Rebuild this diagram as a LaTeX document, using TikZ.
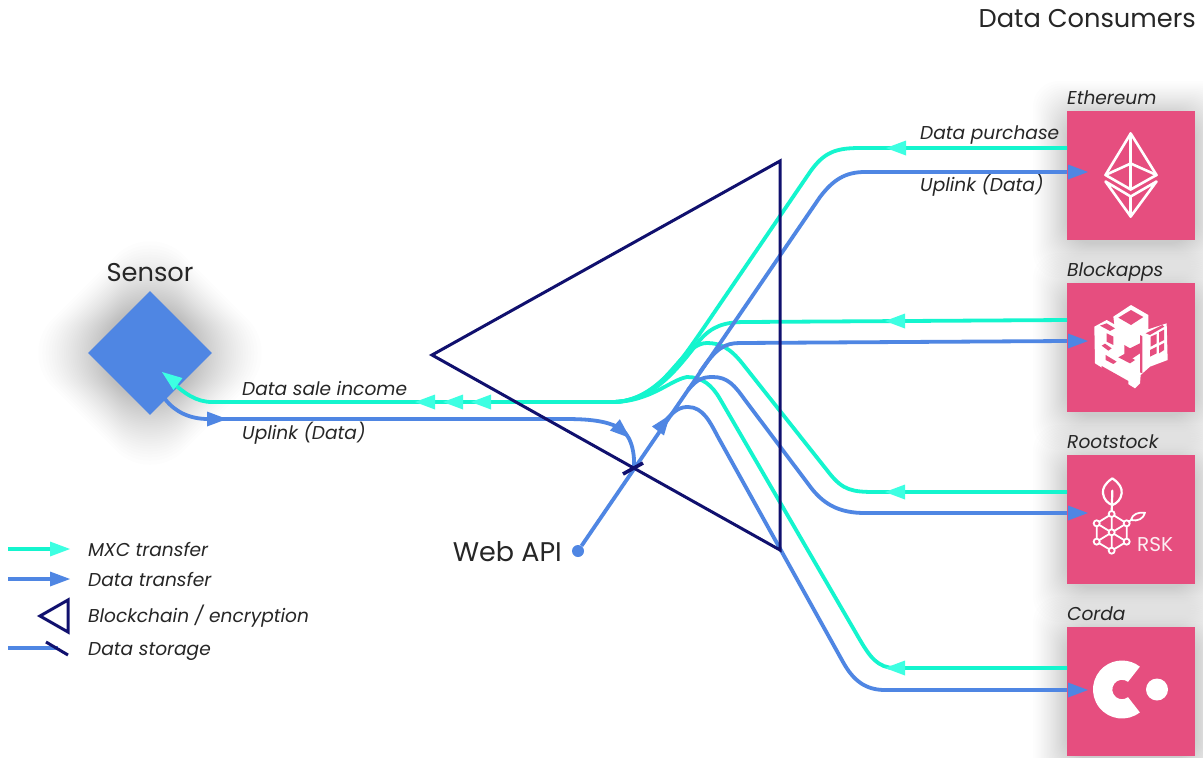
\documentclass[tikz,border=0pt]{standalone}
\usepackage{fontspec}
\setmainfont{Poppins}
\usetikzlibrary{shapes.geometric}
\definecolor{mxc}{HTML}{14F5CE}
\definecolor{mxchead}{HTML}{3DFFE2}
\definecolor{datab}{HTML}{4F86E3}
\definecolor{navyb}{HTML}{10106E}
\definecolor{consumer}{HTML}{E64E7F}
\definecolor{ink}{HTML}{262626}
\tikzset{
  mxcline/.style={draw=mxc,line width=3.8pt},
  dataline/.style={draw=datab,line width=3.8pt},
  chain/.style={draw=navyb,line width=3pt,line join=miter},
  storetick/.style={draw=navyb,line width=3.6pt},
  mxctip/.style={fill=mxchead},
  datatip/.style={fill=datab},
  consumerbox/.style={rectangle,fill=consumer,minimum width=128pt,minimum height=129pt,inner sep=0pt},
  sensorbox/.style={diamond,fill=datab,aspect=1,minimum width=124pt,minimum height=124pt,inner sep=0pt},
  bigtext/.style={font=\fontsize{25.7}{26}\selectfont,text=ink,inner sep=0pt},
  smalltext/.style={font=\fontsize{18.6}{19}\selectfont\itshape,text=ink,inner sep=0pt,anchor=west},
  iconline/.style={draw=white,line width=2.6pt,line join=round,line cap=round},
  rsknode/.style={circle,draw=white,fill=consumer,line width=1.8pt,minimum size=6pt,inner sep=0pt},
}
\newcommand{\tiphead}[4]{\fill[#4,shift={(#1,#2)},rotate=#3] (0,0) -- (-20,7.5) -- (-20,-7.5) -- cycle;}
\newcommand{\boxglow}[2]{\foreach \i in {1,...,26}{\pgfmathsetmacro{\g}{38*(\i/26)^0.7}\fill[black,opacity=0.008,rounded corners=26pt] (#1-64-38+\g,#2-64-34+\g) rectangle (#1+64+38-\g,#2+65+42-\g);}}
\begin{document}
\begin{tikzpicture}[x=1pt,y=-1pt]
\useasboundingbox (0,0) rectangle (1203,758);
\fill[white] (0,0) rectangle (1203,758);
% glows
\foreach \i in {1,...,32}{\pgfmathsetmacro{\g}{72*(\i/32)^0.7}\fill[black,opacity=0.008,rounded corners=48pt] (150,353-138+\g) -- (150+138-\g,353) -- (150,353+138-\g) -- (150-138+\g,353) -- cycle;}
\boxglow{1131}{175}
\boxglow{1131}{347}
\boxglow{1131}{519}
\boxglow{1131}{691}
% nodes
\node[sensorbox] (sensor) at (150,353) {};
\node[consumerbox] (eth) at (1131,175.5) {};
\node[consumerbox] (blk) at (1131,347.5) {};
\node[consumerbox] (rsk) at (1131,519.5) {};
\node[consumerbox] (crd) at (1131,691.5) {};
\node[circle,fill=datab,minimum size=12pt,inner sep=0pt] (api) at (578,551) {};
\node[bigtext,anchor=east] (title) at (1196,19) {Data Consumers};
\node[bigtext] (sensorlabel) at (150,273) {Sensor};
\node[bigtext,font=\fontsize{27}{27}\selectfont,anchor=east] (apilabel) at (562,552) {Web API};
\node[smalltext] (l1) at (1067,98) {Ethereum};
\node[smalltext] (l2) at (1067,272) {Blockapps};
\node[smalltext] (l3) at (1067,442) {Rootstock};
\node[smalltext] (l4) at (1067,614) {Corda};
\node[smalltext] (l5) at (920,135) {Data purchase};
\node[smalltext] (l6) at (920,185) {Uplink (Data)};
\node[smalltext] (l7) at (242,389) {Data sale income};
\node[smalltext] (l8) at (242,433) {Uplink (Data)};
\node[smalltext] (l9) at (88,549) {MXC transfer};
\node[smalltext] (l10) at (88,579) {Data transfer};
\node[smalltext] (l11) at (88,616) {Blockchain / encryption};
\node[smalltext] (l12) at (88,652) {Data storage};
% ports
\coordinate (ethM) at (1067,148);
\coordinate (ethD) at (1067,172);
\coordinate (blkM) at (1067,320);
\coordinate (blkD) at (1067,341);
\coordinate (rskM) at (1067,492);
\coordinate (rskD) at (1067,513);
\coordinate (crdM) at (1067,668);
\coordinate (crdD) at (1067,690);
\coordinate (hub) at (612,402);
\coordinate (store) at (634,468);
\coordinate (senM) at (172,382);
\coordinate (senD) at (165,399);
\coordinate (triA) at (432,355);
\coordinate (triB) at (780,161);
\coordinate (triC) at (780,550);
% mxc lines
\draw[mxcline] (hub) -- (212,402) .. controls (196,402) and (184,393) .. (senM);
\draw[mxcline] (ethM) -- (860,148) .. controls (836,148) and (824,152) .. (810,172) -- (705,326) .. controls (680,362) and (655,402) .. (hub);
\draw[mxcline] (blkM) -- (745,322) .. controls (725,322) and (712,326) .. (700,340) .. controls (680,365) and (655,402) .. (hub);
\draw[mxcline] (rskM) -- (875,492) .. controls (852,492) and (843,490) .. (830,474) -- (742,363) .. controls (730,348) and (720,343) .. (707,343) .. controls (690,343) and (676,368) .. (660,382) .. controls (645,395) and (630,402) .. (hub);
\draw[mxcline] (crdM) -- (895,668) .. controls (878,668) and (870,657) .. (860,640) -- (720,399) .. controls (712,385) and (702,377) .. (687,377) .. controls (670,380) and (650,402) .. (hub);
% data lines
\draw[dataline] (senD) .. controls (175,412) and (190,419) .. (208,419) -- (565,419) .. controls (590,419) and (605,421) .. (618,427) .. controls (630,433) and (635,450) .. (store);
\draw[dataline] (api) -- (820,197) .. controls (833,180) and (845,172) .. (865,172) -- (ethD);
\draw[dataline] (blkD) -- (740,343) .. controls (725,343) and (716,348) .. (700,372);
\draw[dataline] (rskD) -- (865,513) .. controls (840,513) and (825,505) .. (812,489) -- (745,400) .. controls (735,386) and (728,377) .. (713,377) .. controls (703,377) and (697,379) .. (688,390);
\draw[dataline] (crdD) -- (885,690) .. controls (865,690) and (853,680) .. (843,662) -- (718,437) .. controls (710,422) and (703,407) .. (688,407) .. controls (680,407) and (675,410) .. (666,420);
% blockchain
\draw[chain] (triA) -- (triB) -- (triC) -- cycle;
\coordinate (tickA) at (623,474);
\coordinate (tickB) at (643,463);
\draw[storetick] (tickA) -- (tickB);
% arrow tips
\tiphead{415}{402}{180}{mxctip}
\tiphead{443}{402}{180}{mxctip}
\tiphead{471}{402}{180}{mxctip}
\tiphead{162}{372}{143}{mxctip}
\tiphead{886}{148}{180}{mxctip}
\tiphead{885}{321}{180}{mxctip}
\tiphead{885}{492}{180}{mxctip}
\tiphead{885}{668}{180}{mxctip}
\tiphead{227}{419}{0}{datatip}
\tiphead{630}{438}{-41}{datatip}
\tiphead{670}{415}{53}{datatip}
\tiphead{1088}{172}{0}{datatip}
\tiphead{1088}{341}{0}{datatip}
\tiphead{1088}{513}{0}{datatip}
\tiphead{1088}{690}{0}{datatip}
% ethereum icon
\draw[iconline] (1130.7,133.5) -- (1105.5,175) -- (1130.7,189.5) -- (1156.5,175) -- cycle;
\draw[iconline] (1105.5,175) -- (1130.7,163.5) -- (1156.5,175);
\draw[iconline] (1130.7,133.5) -- (1130.7,189.5);
\draw[iconline] (1105.5,181.5) -- (1130.7,196.5) -- (1156.5,181.5) -- (1130.7,216.5) -- cycle;
\draw[iconline] (1130.7,196.5) -- (1130.7,216.5);
% blockapps icon
\begin{scope}[shift={(1085,295)},x=0.3333pt,y=-0.3333pt]
\fill[white] (138,30) -- (190,60) -- (190,103) -- (245,85) -- (248,195) -- (195,215) -- (167,240) -- (165,265) -- (150,280) -- (30,205) -- (28,95) -- (65,75) -- (88,88) -- (85,65) -- cycle;
\fill[consumer] (138,45) -- (175,66) -- (138,90) -- (100,68) -- cycle;
\fill[consumer] (45,92) -- (65,85) -- (90,100) -- (75,108) -- cycle;
\fill[consumer] (65,115) -- (85,125) -- (85,150) -- (65,140) -- cycle;
\fill[consumer] (50,152) -- (60,146) -- (80,160) -- (70,167) -- cycle;
\fill[consumer] (118,150) -- (135,160) -- (165,145) -- (165,175) -- (135,195) -- (118,180) -- cycle;
\fill[consumer] (62,180) -- (95,200) -- (85,207) -- (62,195) -- cycle;
\fill[consumer] (100,187) -- (120,176) -- (150,195) -- (135,205) -- cycle;
\fill[consumer] (50,213) -- (130,258) -- (130,270) -- (50,225) -- cycle;
\fill[consumer] (165,120) -- (172,124) -- (172,235) -- (165,232) -- cycle;
\fill[consumer] (182,115) -- (232,90) -- (238,95) -- (195,120) -- cycle;
\fill[consumer] (197,125) -- (215,117) -- (215,145) -- (197,155) -- cycle;
\fill[consumer] (222,112) -- (237,104) -- (237,135) -- (222,143) -- cycle;
\fill[consumer] (195,165) -- (215,155) -- (215,175) -- (195,185) -- cycle;
\fill[consumer] (222,152) -- (237,144) -- (237,165) -- (222,175) -- cycle;
\end{scope}
% rsk icon
\begin{scope}[shift={(1085,470)},x=0.3333pt,y=-0.3333pt]
\draw[iconline,line width=2.2pt] (82,25) .. controls (60,40) and (52,55) .. (54,70) .. controls (56,88) and (68,100) .. (82,105) .. controls (96,100) and (108,88) .. (110,70) .. controls (112,55) and (104,40) .. (82,25);
\draw[iconline,line width=2.2pt] (82,62) -- (80,132);
\draw[iconline,line width=1.8pt] (80,132) -- (35,160) -- (35,215) -- (80,242) -- (125,215) -- (125,160) -- cycle;
\draw[iconline,line width=1.8pt] (80,132) -- (80,242) (35,160) -- (125,215) (125,160) -- (35,215);
\draw[iconline,line width=1.8pt] (138,150) .. controls (142,132) and (160,126) .. (180,128) .. controls (176,146) and (158,155) .. (138,150) (125,160) -- (138,150);
\node[rsknode] at (80,132) {};
\node[rsknode] at (35,160) {};
\node[rsknode] at (125,160) {};
\node[rsknode] at (80,187) {};
\node[rsknode] at (35,215) {};
\node[rsknode] at (125,215) {};
\node[rsknode] at (80,242) {};
\end{scope}
\node[font=\fontsize{20}{20}\selectfont,text=white!90!consumer,inner sep=0pt,anchor=west] (rsktext) at (1137,545) {RSK};
% corda icon
\begin{scope}[shift={(1122,689.5)}]
\fill[white] (52:29) arc[start angle=52,end angle=308,radius=29] -- (308:9.7) arc[start angle=308,end angle=52,radius=9.7] -- cycle;
\end{scope}
\fill[white] (1157,689.5) circle[radius=11];
% legend
\coordinate (a1) at (8,549); \coordinate (a2) at (50,549);
\coordinate (b1) at (8,579); \coordinate (b2) at (50,579);
\coordinate (c1) at (8,648); \coordinate (c2) at (58,648);
\coordinate (d1) at (46,642); \coordinate (d2) at (68,655);
\coordinate (e1) at (40,616); \coordinate (e2) at (68,600); \coordinate (e3) at (68,632);
\draw[mxcline] (a1) -- (a2);
\draw[dataline] (b1) -- (b2);
\draw[dataline] (c1) -- (c2);
\draw[storetick,line width=3pt] (d1) -- (d2);
\draw[chain] (e1) -- (e2) -- (e3) -- cycle;
\tiphead{70}{549}{0}{mxctip}
\tiphead{70}{579}{0}{datatip}
\end{tikzpicture}
\end{document}
